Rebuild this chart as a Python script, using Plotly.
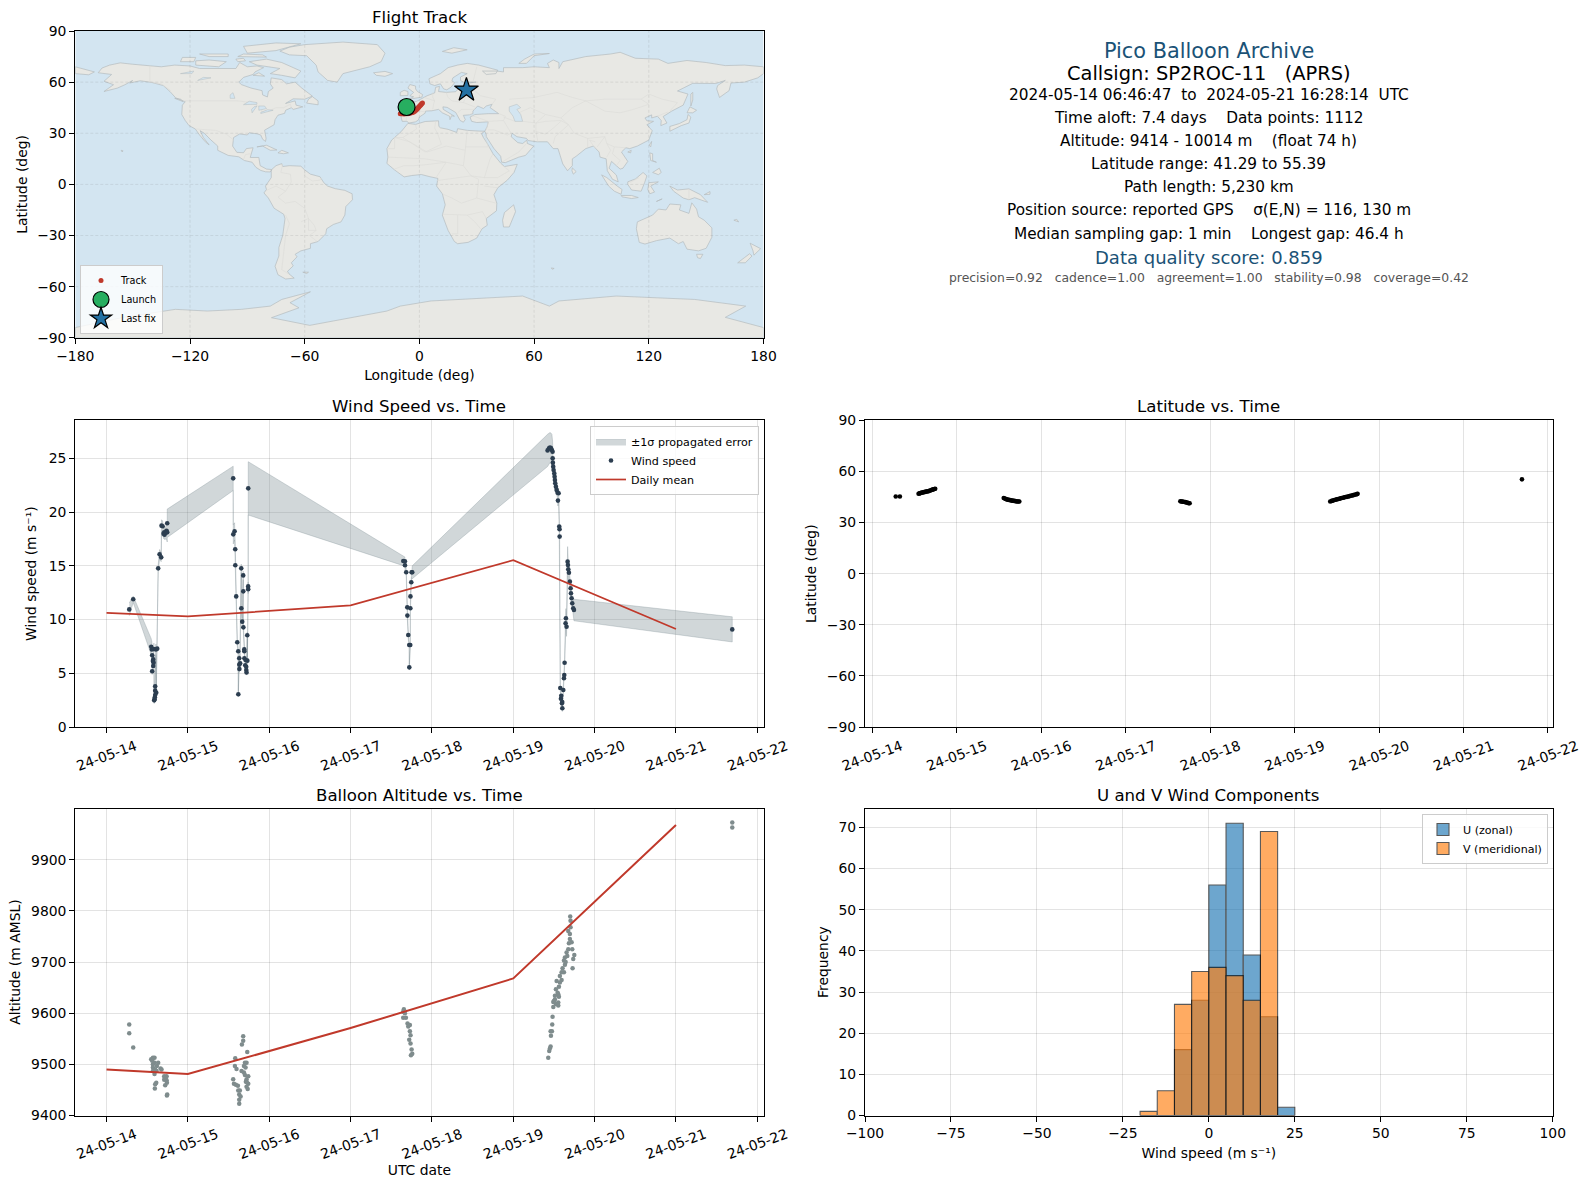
import numpy as np
import pandas as pd
import plotly.graph_objects as go

W, H = 1589, 1189
FONT = "DejaVu Sans"
T0 = pd.Timestamp("2024-05-14")

# ---------- wind speed ----------
wind_days = [
    .279, .328, .549, .557, .561, .561, .570, .574, .574, .578, .582, .586, .590, .594, .598, .598, .598, .607, .611, .623,
    .635, .652, .672, .676, .689, .701, .709, .713, .730, .738, .746, .746,
    1.557, 1.558, 1.574, 1.582, 1.583, 1.594, 1.607, 1.619, 1.620, 1.631, 1.632, 1.633, 1.643, 1.656, 1.657, 1.668, 1.680,
    1.681, 1.682, 1.693, 1.694, 1.695, 1.705, 1.709, 1.717, 1.718, 1.721, 1.730, 1.731, 1.741, 1.7415, 1.742,
    3.648, 3.668, 3.669, 3.684, 3.697, 3.698, 3.709, 3.721, 3.722, 3.734, 3.735, 3.736, 3.746, 3.750, 3.758,
    5.422, 5.439, 5.451, 5.463, 5.475, 5.483, 5.484, 5.487, 5.491, 5.496, 5.504, 5.508, 5.512, 5.516, 5.524, 5.533, 5.545,
    5.549, 5.557, 5.565, 5.569, 5.570, 5.578, 5.586, 5.590, 5.598, 5.602, 5.603, 5.615, 5.623, 5.627, 5.631, 5.643, 5.647,
    5.655, 5.668, 5.672, 5.676, 5.684, 5.696, 5.705, 5.709, 5.717, 5.725, 5.737, 5.746, 7.692,
]
wind_speed = [
    10.95, 11.89, 7.48, 7.23, 6.68, 5.19, 6.15, 6.30, 5.68, 5.99, 7.26, 2.49, 2.58, 2.77, 3.79, 3.39, 2.99, 7.23, 3.20, 7.30,
    14.77, 16.07, 15.79, 18.74, 18.68, 17.99, 18.12, 17.90, 18.09, 18.27, 18.12, 18.96,
    23.14, 17.93, 18.21, 16.54, 15.05, 12.16, 7.89, 7.05, 3.05, 6.40, 5.81, 5.40, 5.93, 14.77, 11.05, 9.81, 14.11,
    12.63, 9.28, 7.23, 7.05, 6.40, 5.75, 6.24, 5.62, 5.31, 5.09, 8.54, 6.18, 13.09, 12.82, 22.21,
    15.45, 15.42, 15.05, 14.40, 11.14, 10.37, 8.57, 7.64, 5.56, 7.64, 11.05, 12.16, 13.47, 14.40, 14.40,
    25.74, 25.93, 26.00, 25.96, 25.78, 25.62, 25.00, 24.60, 24.23, 23.92, 23.60, 23.30, 22.99, 22.68, 22.37, 22.06, 21.81,
    21.07, 21.75, 18.65, 18.40, 17.72, 3.64, 2.64, 2.92, 2.21, 2.33, 1.75, 3.45, 4.54, 4.85, 5.99, 9.65, 10.12,
    9.34, 15.39, 15.08, 14.68, 14.37, 13.53, 12.91, 12.44, 11.98, 11.51, 11.05, 10.89, 9.09,
]
wind_sigma = [
    .60, .30, .75, .70, .50, .30, .30, .40, .30, .30, .55, .30, .25, .25, .30, .30, .25, .50, .30, .55,
    .30, .45, .40, .55, .50, .45, .50, .45, .60, .80, .90, 1.32,
    1.13, .90, .80, .60, .50, .40, .30, .30, .25, .30, .30, .30, .30, .40, .30, .30, .40,
    .40, .30, .25, .25, .25, .25, .25, .25, .25, .25, .30, .30, .40, .40, 2.48,
    .43, .40, .40, .35, .30, .30, .30, .25, .25, .25, .30, .30, .40, .50, .60,
    1.50, 1.45, 1.40, 1.40, 1.45, 1.00, .70, .55, .50, .50, .60, .65, .60, .60, .55, .55, .50,
    .50, .50, .60, .50, .40, .30, .30, .30, .25, .30, .30, .30, .30, .30, .30, .80, .90,
    .90, 1.40, 1.00, .70, .50, .40, .30, .30, .35, .50, .70, 1.00, 1.17,
]
mean_days = [0, 1, 3, 5, 7]
wind_mean = [10.62, 10.30, 11.32, 15.52, 9.13]

# ---------- altitude ----------
alt_days = [
    .279, .279, .328,
    .549, .570, .590, .561, .570, .590, .619, .570, .598, .635, .676, .664, .590, .615, .570, .717, .738, .709, .730, .738,
    .611, .709, .742, .598, .721, .594, .742, .746,
    1.680, 1.680, 1.664, 1.730, 1.582, 1.701, 1.721, 1.689, 1.578, 1.598, 1.660, 1.689, 1.709, 1.701, 1.742, 1.721, 1.742, 1.713,
    1.557, 1.566, 1.590, 1.615, 1.721, 1.619, 1.639, 1.631, 1.648, 1.631, 1.631, 1.725, 1.735,
    3.655, 3.647, 3.668, 3.647, 3.680, 3.700, 3.729, 3.709, 3.729, 3.737, 3.721, 3.737, 3.750, 3.758, 3.742,
    5.430, 5.442, 5.459, 5.450, 5.463, 5.475, 5.459, 5.479, 5.483, 5.492, 5.533, 5.500, 5.553, 5.512, 5.553, 5.524, 5.561,
    5.533, 5.594, 5.623, 5.573, 5.606, 5.594, 5.623, 5.635, 5.655, 5.676, 5.684, 5.717, 5.696, 5.704, 5.704, 5.700,
    5.729, 5.737, 5.750, 5.725, 5.676, 5.512, 5.545, 5.524, 5.553, 5.492, 5.561, 5.573, 5.635, 5.664, 5.644, 5.696,
    7.692, 7.692,
]
alt_m = [
    9578, 9561, 9533,
    9510, 9513, 9513, 9507, 9500, 9503, 9497, 9494, 9490, 9503, 9490, 9492, 9481, 9487, 9487, 9474, 9477, 9477, 9474, 9469,
    9464, 9470, 9464, 9461, 9459, 9453, 9439, 9441,
    9555, 9546, 9539, 9524, 9512, 9503, 9503, 9497, 9497, 9491, 9487, 9484, 9494, 9479, 9477, 9471, 9462, 9466,
    9471, 9462, 9460, 9458, 9456, 9449, 9449, 9441, 9437, 9431, 9423, 9465, 9452,
    9608, 9603, 9600, 9591, 9591, 9580, 9577, 9574, 9565, 9557, 9548, 9541, 9529, 9521, 9518,
    9513, 9526, 9535, 9531, 9556, 9565, 9565, 9578, 9593, 9612, 9618, 9624, 9621, 9634, 9637, 9647, 9652,
    9663, 9665, 9680, 9673, 9688, 9680, 9703, 9709, 9719, 9725, 9737, 9739, 9755, 9768, 9781, 9789,
    9688, 9706, 9714, 9725, 9761, 9627, 9640, 9618, 9615, 9622, 9632, 9660, 9695, 9712, 9700, 9745,
    9973, 9963,
]
alt_mean = [9490, 9481, 9571, 9668, 9968]

# ---------- latitude ----------
lat_days = [
    .279, .328,
    .549, .560, .570, .582, .592, .604, .615, .627, .640, .652, .664, .676, .689, .701, .713, .725, .737, .746,
    1.557, 1.570, 1.582, 1.594, 1.607, 1.619, 1.631, 1.643, 1.656, 1.668, 1.680, 1.693, 1.705, 1.717, 1.730, 1.742,
    3.648, 3.660, 3.672, 3.684, 3.697, 3.709, 3.721, 3.734, 3.746, 3.758,
    5.422, 5.440, 5.455, 5.470, 5.485, 5.500, 5.515, 5.530, 5.545, 5.560, 5.575, 5.590, 5.605, 5.620, 5.635, 5.650,
    5.665, 5.680, 5.695, 5.710, 5.725, 5.740, 5.746,
    7.692,
]
lat_deg = [
    45.3, 45.3,
    46.9, 47.1, 47.3, 47.5, 47.6, 47.7, 47.9, 48.0, 48.2, 48.3, 48.4, 48.6, 48.8, 49.1, 49.3, 49.5, 49.7, 49.8,
    44.4, 44.1, 43.8, 43.6, 43.4, 43.3, 43.2, 43.0, 42.9, 42.8, 42.7, 42.6, 42.5, 42.4, 42.4, 42.4,
    42.5, 42.4, 42.3, 42.2, 42.1, 42.0, 41.8, 41.6, 41.4, 41.3,
    42.4, 42.7, 42.9, 43.2, 43.4, 43.6, 43.8, 44.0, 44.2, 44.4, 44.6, 44.8, 45.0, 45.1, 45.3, 45.5,
    45.7, 45.9, 46.1, 46.3, 46.5, 46.7, 46.9,
    55.35,
]

# ---------- histogram ----------
bin_centers = [-17.5, -12.5, -7.5, -2.5, 2.5, 7.5, 12.5, 17.5, 22.5]
u_counts = [0, 0, 16, 28, 56, 71, 39, 24, 2]
v_counts = [1, 6, 27, 35, 36, 34, 28, 69, 0]

# ---------- map ----------
track_lon = [-10.0, -9.5, -8.8, -8.0, -7.0, -6.0, -5.0, -4.0, -3.2, -2.6, -2.0, -1.6, -1.2, -0.8, -0.4, 0.0, 0.4, 0.8, 1.2, 1.6, 24.6]
track_lat = [41.5, 41.4, 41.4, 41.3, 41.4, 41.5, 41.7, 42.0, 42.4, 42.8, 43.3, 43.8, 44.3, 44.8, 45.3, 45.8, 46.3, 46.8, 47.3, 47.8, 55.39]
launch_lon, launch_lat = [-6.7], [45.4]
last_lon, last_lat = [24.6], [55.39]
lon_ticks = [-180, -120, -60, 0, 60, 120, 180]
lat_ticks = [-90, -60, -30, 0, 30, 60, 90]

land_polygons = [
    # North America
    [(-168,65.5),(-166,68.3),(-162,70),(-156.5,71.3),(-150,70.5),(-141,69.7),(-135,69),(-128,70),(-120,69.5),(-115,68),(-108,68),(-102,68),(-96,68),(-94,71.5),(-90,69),(-85,69.5),(-81.5,68.5),(-86,66),(-87,64.5),(-92,62.8),(-94.5,60),(-93,58.5),(-88,56.5),(-82.3,55),(-82,52.5),(-79.5,51.3),(-79,54.5),(-76.5,56.5),(-78,59),(-77.5,62.5),(-72,61.5),(-69.5,59),(-65,60),(-61.5,56.5),(-57,53),(-56,51.8),(-60,50),(-66,50.2),(-70,47.5),(-65,49),(-64.5,46.5),(-61,45.5),(-66,44),(-67,45),(-70,43.5),(-70.5,41.7),(-74,40.6),(-75.5,38),(-76,35),(-78,33.8),(-81,31.8),(-80.2,27),(-80.5,25.2),(-82,26.5),(-83,29),(-85,29.7),(-89,30.3),(-90,29),(-94,29.6),(-97.2,27.5),(-97.7,22.5),(-95.5,18.8),(-92,18.6),(-90.5,21),(-87,21.5),(-88.2,17),(-88.5,15.8),(-84,15.8),(-83.3,11),(-80,9),(-77.3,8.7),(-78,7.3),(-80.5,7.4),(-83,8.2),(-85.5,10),(-87.5,13),(-91.5,14),(-94.5,16.2),(-100,17),(-105.5,20),(-105.5,22.5),(-109,26),(-112.5,30),(-114.7,31.5),(-113,27.5),(-110,23.2),(-112,25),(-115,29),(-117.2,32.5),(-120.5,34.5),(-122.5,37.5),(-124.3,41),(-124,46.5),(-122.5,48.5),(-127.5,50.8),(-130.5,54.5),(-134,58),(-140,59.8),(-146,60.8),(-151.5,59.5),(-150,61),(-154,58.5),(-158,56.5),(-165,54.5),(-160,58.5),(-165,60.5),(-161,64.5),(-168,65.5)],
    # South America
    [(-77.3,8.7),(-75,11),(-72,12.2),(-71.5,10.5),(-68,11),(-62,10.7),(-60,8.5),(-57,6),(-52,4.5),(-50,1),(-48,-1),(-44,-2.5),(-39,-3.5),(-35.2,-5.5),(-35,-9),(-38.5,-13),(-39,-18),(-41,-22),(-45,-23.5),(-48.5,-26),(-49,-29),(-53,-33.5),(-57,-34.8),(-57,-37.5),(-62,-39),(-65,-41),(-64,-42.5),(-67,-46),(-66,-47.8),(-69,-51),(-68.2,-52.5),(-65.5,-55),(-70,-55.5),(-74,-53),(-75.5,-48),(-73.5,-42),(-73.5,-37),(-71.5,-30),(-70.3,-20),(-71,-17.5),(-76,-14),(-79,-8),(-81.3,-5),(-80,-3),(-80.5,-1),(-78.8,1.5),(-77.5,4),(-77.5,7.5),(-77.3,8.7)],
    # Africa
    [(-6,35.8),(-2,35.2),(3,36.9),(10,37.3),(10.2,34),(11,33.2),(15,32.3),(19.5,30.5),(20,32.7),(25,31.7),(31,31.3),(34.2,31.2),(32.5,29.8),(33.5,27.5),(35.5,24),(37.2,20.8),(38.5,18),(42.5,12.5),(43.3,11.5),(44.5,10.5),(51.2,11.8),(49.5,7),(46,2.5),(41,-2),(39,-6),(40.5,-11),(40.3,-15.5),(35,-20),(35.5,-24),(32.8,-26),(30,-31.5),(25.5,-34),(20,-34.8),(18.3,-33.5),(15,-27),(12,-18),(13.5,-12),(12,-5.5),(9,-1),(9.7,3.5),(5.5,4.5),(1,5.8),(-4,5.2),(-8,4.4),(-13,8.5),(-17,12.3),(-16.5,16),(-17,21),(-14.5,26),(-9.5,31),(-6,35.8)],
    # Eurasia
    [(-9,37),(-9.5,39),(-9,43.2),(-2,43.4),(-1.2,46),(-4.7,48.3),(-1.5,48.7),(1.5,50.5),(4,52),(8,53.7),(8.5,57),(10.5,57.5),(10,54.5),(14,54),(19,54.4),(21,57),(24,57.5),(24,59.2),(29.5,60),(23,60),(21.5,61),(21.5,63),(25,65),(22,65.7),(17.5,62.5),(17,60.7),(18.5,59.7),(16.5,57),(14.3,55.5),(12.7,56),(11,59),(8,58),(5.5,59),(5,62),(11,65),(15,68.5),(20,70),(25,71),(31,70),(41,67),(40,65),(35,64.5),(33,66.5),(40.5,66.5),(44,66),(44,68.5),(54,68.5),(60,69),(68,68.5),(67,71),(70,73),(73,71.5),(73,68),(75,72),(81,73.5),(87,75),(100,76.5),(105,77.5),(113,74),(125,73.5),(130,71),(140,72.7),(150,71.5),(160,69.7),(170,70),(180,69),(180,65),(177,62.5),(170,60),(163,59.5),(162,55),(157,51),(155.5,56),(156,58),(160,61),(155,59.2),(143,59.3),(135,54.8),(140.5,53),(138,46.5),(132,43),(127.5,39.8),(129.5,36),(126.3,34.5),(126.5,37.5),(124.5,40),(121.5,39),(121.5,40.8),(118,39),(119,37.3),(122.5,37),(119,35),(121.8,31.5),(120,26),(114,22.5),(110,21),(108,21.5),(105.7,19),(109,13.5),(106.5,9.5),(105,9),(100.5,13.5),(99.2,9.5),(103,5.5),(104,1.5),(101,3),(98.3,8),(97.7,15),(94.5,16),(94,19),(91,22.5),(87,21),(82,16.5),(80,15),(80,11),(77.5,8),(75,12),(72.8,19),(72.5,21),(70,21),(67,25),(61.5,25),(57,25.7),(56,27),(51,28),(48.5,30),(48,28),(50,26),(51.5,24.5),(54,24),(56.2,26),(56.5,24),(59.8,22.5),(55.5,17),(52,16),(45,12.8),(43,13),(42.5,16.5),(39,21),(35,28),(34.9,29.5),(34.2,31.2),(35.5,34),(36,36.7),(32,36.2),(30,36.3),(27.3,37),(26.5,39.5),(29,41),(31.5,41.2),(36,41.5),(41.5,41.5),(37,45),(38,47),(35,46),(33.5,44.5),(30.5,46),(28,43),(28,41.5),(26,40.8),(23,40.5),(24,38),(23,36.5),(21.3,37.5),(19.5,41),(19,42.2),(14.5,45.2),(12.3,45.5),(12.5,44),(16,41.8),(18.3,40),(16.8,40.3),(16,38),(15.8,40),(12,42),(10,44),(6.5,43.2),(3.2,43),(3,41.8),(0,39.5),(-0.5,37.8),(-2,36.7),(-5.5,36),(-6.5,37),(-9,37)],
    [(-180,69),(-175,67.5),(-170,66),(-173,64.3),(-180,65),(-180,69)],
    # Greenland, Iceland, British Isles, Arctic
    [(-73,78.2),(-68,80.5),(-60,82),(-40,83.5),(-22,82),(-18,77),(-20,72),(-26,69),(-40,65),(-43,60),(-48,61),(-53,66),(-54,70),(-59,75.5),(-68,76),(-73,78.2)],
    [(-24,65.5),(-18,66.3),(-14,65),(-18,63.4),(-22.5,64),(-24,65.5)],
    [(-5.5,50),(1.3,51.2),(1.7,52.7),(-1,54.5),(-2,56),(-2,57.7),(-5,58.6),(-6,56.5),(-3,54),(-5,52),(-3,51.4),(-5.5,50)],
    [(-10,52),(-6,52.2),(-6,54.5),(-8,55.2),(-10,54),(-10,52)],
    [(52,71),(56,71),(60,75.5),(68,76.8),(60,76.5),(55,73.5),(52,71)],
    [(12,78),(17,77),(25,79),(18,80.2),(12,78)],
    # Canadian archipelago
    [(-80,73.5),(-72,71.5),(-62,66.5),(-65,62.5),(-72,64),(-78,65),(-73,68),(-85,70),(-89,72),(-80,73.5)],
    [(-117,70),(-105,69),(-101,72),(-110,73),(-117,72.5),(-117,70)],
    [(-90,77),(-75,78.5),(-62,82.5),(-75,83),(-92,81),(-90,77)],
    [(-125,72),(-118,72),(-117,74.5),(-124,74.5),(-125,72)],
    [(-95,75),(-80,74.7),(-82,76),(-92,76.5),(-95,75)],
    [(-95,72),(-91,72.5),(-92,74),(-96,73.5),(-95,72)],
    [(-110,75),(-100,75),(-100,76.5),(-115,76.5),(-110,75)],
    [(-59,47.7),(-53,46.7),(-53,49),(-56,51.5),(-58,50),(-59,47.7)],
    [(-87,64),(-81,63.5),(-84,65.5),(-87,64)],
    [(-128,50.5),(-123.5,48.5),(-125,50),(-128,50.5)],
    # Caribbean, Pacific
    [(-85,22),(-80,23),(-74.5,20.2),(-78,20),(-82,22.5),(-85,22)],
    [(-74,18.5),(-72,20),(-68.5,18.5),(-71,18),(-74,18.5)],
    [(-156,20),(-155,19.7),(-155.5,19),(-156,20)],
    # Asia islands
    [(131,34),(136,35.7),(140,38),(140.5,41),(142,39.5),(141,36),(137,34.5),(135,33.5),(131,31.2),(131,34)],
    [(140,42),(141.5,45.5),(145,43.5),(143,42),(140,42)],
    [(142,46),(143,49.5),(143,54),(142,53),(142,46)],
    [(120.2,23),(121.5,25.2),(121,22),(120.2,23)],
    [(109,19),(110.8,20),(110.5,18.5),(109,19)],
    [(80,9.7),(82,7.5),(80.5,6),(79.8,8),(80,9.7)],
    [(120.5,18.5),(122,18),(122,14),(124,13),(121,14),(120.5,18.5)],
    [(122,7),(125.5,9.5),(126.5,7),(125,5.7),(122,7)],
    [(109,1.5),(113,3.2),(117,7),(119,5),(117.8,1),(116,-4),(111,-3.3),(109,0),(109,1.5)],
    [(95.3,5.6),(98,4),(103.5,-1),(106,-3),(105.5,-5.8),(102,-4),(99,-1),(95.3,5.6)],
    [(105.5,-6.5),(111,-6.5),(114.5,-7.7),(111,-8.3),(106,-7.3),(105.5,-6.5)],
    [(119.5,-3),(120,1),(125,1.5),(121,-1),(123,-4.5),(120.5,-5.5),(119.5,-3)],
    [(124,-10),(127,-8.5),(125,-9.5),(124,-10)],
    [(131,-1),(135,-3.3),(141,-2.6),(147,-6),(150.8,-10.5),(144,-7.8),(141,-9),(138,-8),(133,-4),(131,-1)],
    [(149,-6),(152,-4.2),(152,-5.8),(149,-6)],
    # Oceania
    [(114,-22),(113.5,-26),(115,-34),(118,-35),(124,-33),(131,-31.5),(135.5,-34.8),(138,-33.5),(140,-38),(146,-39),(150,-37.5),(153,-31),(153,-25.5),(149,-21),(146,-19),(145,-14.5),(142.5,-10.8),(141,-17),(136,-15),(136.8,-12),(131,-11.5),(129,-15),(125,-14.5),(122,-18),(114,-22)],
    [(145,-41),(148.3,-41),(147,-43.5),(145.5,-43),(145,-41)],
    [(173,-34.5),(178.5,-37.7),(175,-41.5),(174.5,-39),(173,-34.5)],
    [(172.7,-40.7),(174,-42),(170.5,-46),(166.5,-46),(170,-43),(172.7,-40.7)],
    [(166,-20.5),(167,-22),(164.5,-21),(166,-20.5)],
    [(49.3,-12),(50.3,-16),(47,-25),(44,-25),(43.5,-21),(44.5,-16.5),(49.3,-12)],
    [(-61,-51.5),(-58,-51.5),(-59,-52.3),(-61,-51.5)],
    [(69,-49),(70.5,-49.3),(69.5,-49.8),(69,-49)],
    # Antarctica
    [(-180,-90),(-180,-84),(-155,-78),(-127.6,-73.3),(-111,-74.3),(-93,-73.3),(-78,-71.4),(-72,-67.5),(-57,-63),(-67.7,-69.4),(-63,-72.4),(-77.4,-78.2),(-57.4,-82.7),(-35,-78),(-17,-74.3),(-10,-71.4),(6,-68.4),(54,-65.5),(68,-71.4),(73,-68.4),(103,-65.5),(144,-67.5),(170.7,-71.4),(160,-78),(178,-83),(180,-84),(180,-90),(-180,-90)],
]
lake_polygons = [
    [(47,45.5),(51,47),(53,45),(51,44),(53,41),(54,37),(50,37),(49,40),(47,43),(47,45.5)],
    [(-92,46.8),(-85,47),(-85,48),(-89,48.8),(-92,46.8)],
    [(-87.5,42),(-85,46),(-86.5,45.5),(-87.8,44),(-87.5,42)],
    [(-84,43.5),(-80,44.5),(-81,46),(-84,46),(-84,43.5)],
    [(-83,41.6),(-79,42.8),(-79,43.2),(-76.5,43.5),(-79.5,43.8),(-83,42.2),(-83,41.6)],
    [(-125,65),(-118,66.5),(-119,65),(-125,65)],
    [(-116,61),(-109,62.5),(-113,62.8),(-116,61)],
    [(-99,50.5),(-96.5,50.5),(-97.5,53.8),(-99,52.5),(-99,50.5)],
]
border_lines = [
    [(-141,69.7),(-141,60),(-135,59),(-130,55)],
    [(-123,49),(-95,49),(-88,48),(-82.5,45),(-82.5,42.5),(-79,43),(-75,45),(-71,45),(-67.5,47),(-67,45)],
    [(-117,32.5),(-106.5,31.7),(-101,29.5),(-97.2,26)],
    [(-92,14.5),(-91,17.5),(-88.5,18)],
    [(-71.5,12),(-72.5,7),(-67.5,6),(-67,1.5),(-70,-4),(-74,-7.5),(-70,-11),(-65,-10),(-60,-14),(-58,-20),(-55,-24),(-54,-27),(-57.5,-30),(-53.5,-33.5)],
    [(-60,8),(-60,5),(-56,2),(-52,2.5),(-51,4)],
    [(-70,-18),(-68,-23),(-70,-30),(-71,-40),(-72,-50),(-68.5,-52.5)],
    [(-80,-3.5),(-75,-1),(-70,-4)],
    [(-62,-22),(-58,-20),(-58,-27),(-54,-27)],
    [(-17,21),(-13,21),(-13,27.5),(-8.7,27.5),(-1.5,32.5),(-2,35)],
    [(-8.7,27.5),(3,19),(11.5,23.5),(9.5,30),(8,33),(8.5,37)],
    [(-13,27.5),(-5,25),(4,19),(14,22.5),(24,20),(25,31.7)],
    [(24,22),(37,22)],
    [(-16.5,16),(-5,15.5),(3,15),(14,13),(23,11),(24,20)],
    [(-13,9),(-8,11),(-3,11),(3,11.5),(14,13)],
    [(14,13),(9,4.5)],
    [(23,11),(27,5),(34,4),(41,4),(47,8),(43,11.5)],
    [(34,4),(37,15),(38.5,18)],
    [(9,2.2),(18,3.5),(27,5),(31,3),(30,-8),(40,-11)],
    [(12,-5.5),(17,-8),(22,-11),(30,-8)],
    [(12,-17.5),(25,-18),(33,-16),(35,-20)],
    [(20,-18),(20,-29),(17,-29)],
    [(25,-18),(29,-22),(32,-26)],
    [(34,-1),(41,-2)],
    [(-2,43.4),(3,42.5)],
    [(-9,42),(-6.5,42),(-7,37)],
    [(2.5,51),(8,49),(7.5,47.5),(7,44)],
    [(7,54),(7,51),(8,49)],
    [(14,54),(15,51),(17,49),(23,48),(29,45.5)],
    [(23,54),(24,50.5),(23,48)],
    [(28,56),(32,52),(40,50),(38,47)],
    [(28,60),(30,69)],
    [(20,42),(22,44),(29,44)],
    [(26,41),(36,37),(44,37.5),(45,40),(41.5,41.5)],
    [(36,32),(39,32),(46,29),(48,30)],
    [(44,37.5),(46,34),(48,30)],
    [(44,39.5),(48,38),(50,37)],
    [(54,37),(61,36),(61,31),(62,25)],
    [(61,36),(66,37),(74,37.5),(78,35),(75,32),(71,28),(70,24)],
    [(61,31),(66,29.5),(70,33),(74,37)],
    [(47,50),(60,51),(72,54),(80,51),(87,49)],
    [(87,49),(97,50),(107,50),(116,50),(120,53),(127,50),(135,48),(131,43)],
    [(87,49),(80,45),(74,39),(78,35),(81,30),(88,27),(97,28),(98,24),(102,22),(108,21.5)],
    [(88,27),(88,22)],
    [(92,25),(89,26),(92,21)],
    [(97,28),(93,22)],
    [(98,24),(100,20),(98,16)],
    [(102,22),(101,18),(105,14),(103,11)],
    [(87,49),(97,43),(105,42),(112,44),(120,47),(116,50)],
    [(124.5,40),(130,42.5)],
    [(52,42),(58,45),(66,41),(61,36)],
    [(66,41),(74,39)],
    [(141,-2.6),(141,-9)],
    [(110,1),(115,4)],
    [(35,32),(36,36.7)],
    [(43,13),(52,19),(56,24)],
    [(36,22),(34,29.5)],
]


def flatten(polys):
    xs, ys = [], []
    for p in polys:
        xs += [c[0] for c in p] + [None]
        ys += [c[1] for c in p] + [None]
    return xs, ys


def to_time(days):
    return [T0 + pd.Timedelta(days=float(d)) for d in days]


# pixel frames of the panels
X1, X2 = (75.3, 763.5), (865.0, 1552.7)
Y1, Y2, Y3 = (31.0, 337.8), (420.3, 727.1), (808.7, 1115.5)


def dx(px):
    return [px[0] / W, px[1] / W]


def dy(py):
    return [1 - py[1] / H, 1 - py[0] / H]


fig = go.Figure()

SPINE = dict(showline=True, linecolor="black", linewidth=1.1, mirror=True, ticks="outside", ticklen=5, tickwidth=1.1,
             tickcolor="black", zeroline=False, automargin=False, tickfont=dict(family=FONT, size=13.9, color="black"))
GRID = dict(showgrid=True, gridcolor="rgba(0,0,0,0.11)", gridwidth=1)
DATEAX = dict(type="date", tickformat="%y-%m-%d", dtick=86400000, tick0="2024-05-14", tickangle=-20, ticklabelshift=29)


def title(text):
    return dict(text=text, font=dict(family=FONT, size=13.9, color="black"))


# ---- map ----
SEA = "#d3e5f1"
LAND = "#e8e8e4"
fig.add_trace(go.Scatter(x=[-180, 180, 180, -180, -180], y=[-90, -90, 90, 90, -90], mode="lines", fill="toself",
                         fillcolor=SEA, line=dict(width=0), hoverinfo="skip", showlegend=False, xaxis="x", yaxis="y"))
lx, ly = flatten(land_polygons)
fig.add_trace(go.Scatter(x=lx, y=ly, mode="lines", fill="toself", fillcolor=LAND, line=dict(color="#b4bcbe", width=0.7),
                         hoverinfo="skip", showlegend=False, xaxis="x", yaxis="y"))
bx, by = flatten(border_lines)
fig.add_trace(go.Scatter(x=bx, y=by, mode="lines", line=dict(color="#dcdcd8", width=0.6), hoverinfo="skip",
                         showlegend=False, xaxis="x", yaxis="y"))
kx, ky = flatten(lake_polygons)
fig.add_trace(go.Scatter(x=kx, y=ky, mode="lines", fill="toself", fillcolor=SEA, line=dict(color="#b4bcbe", width=0.5),
                         hoverinfo="skip", showlegend=False, xaxis="x", yaxis="y"))
gx = []
gy = []
for v in lon_ticks[1:-1]:
    gx += [v, v, None]
    gy += [-90, 90, None]
for v in lat_ticks[1:-1]:
    gx += [-180, 180, None]
    gy += [v, v, None]
fig.add_trace(go.Scatter(x=gx, y=gy, mode="lines", line=dict(color="rgba(120,120,120,0.2)", width=0.8, dash="3px,2px"),
                         hoverinfo="skip", showlegend=False, xaxis="x", yaxis="y"))
fig.add_trace(go.Scatter(x=track_lon, y=track_lat, mode="markers", name="Track", marker=dict(color="#c0392b", size=5),
                         legend="legend", xaxis="x", yaxis="y"))
fig.add_trace(go.Scatter(x=launch_lon, y=launch_lat, mode="markers", name="Launch",
                         marker=dict(color="#27ae60", size=17, line=dict(color="black", width=1.2)),
                         legend="legend", xaxis="x", yaxis="y"))
fig.add_trace(go.Scatter(x=last_lon, y=last_lat, mode="markers", name="Last fix",
                         marker=dict(color="#2471a3", size=18, symbol="star", line=dict(color="black", width=1.2)),
                         legend="legend", xaxis="x", yaxis="y"))

# ---- wind ----
order = np.argsort(wind_days, kind="stable")
wd = np.array(wind_days)[order]
ws = np.array(wind_speed)[order]
sg = np.array(wind_sigma)[order]
upper = ws + sg
lower = ws - sg
band_t = to_time(wd)
fig.add_trace(go.Scatter(x=band_t + band_t[::-1], y=list(upper) + list(lower[::-1]), mode="lines", fill="toself",
                         fillcolor="rgba(122,140,146,0.35)", line=dict(color="rgba(122,140,146,0.3)", width=1),
                         name="±1σ propagated error", legend="legend2", hoverinfo="skip", xaxis="x2", yaxis="y2"))
fig.add_trace(go.Scatter(x=band_t, y=ws, mode="markers", name="Wind speed", marker=dict(color="#2c3e50", size=4.6),
                         legend="legend2", xaxis="x2", yaxis="y2"))
fig.add_trace(go.Scatter(x=to_time(mean_days), y=wind_mean, mode="lines", name="Daily mean",
                         line=dict(color="#c0392b", width=1.7), legend="legend2", xaxis="x2", yaxis="y2"))

# ---- latitude ----
fig.add_trace(go.Scatter(x=to_time(lat_days), y=lat_deg, mode="markers", marker=dict(color="black", size=4.6),
                         showlegend=False, xaxis="x3", yaxis="y3"))

# ---- altitude ----
fig.add_trace(go.Scatter(x=to_time(alt_days), y=alt_m, mode="markers", marker=dict(color="#7f8c8d", size=4.5),
                         showlegend=False, xaxis="x4", yaxis="y4"))
fig.add_trace(go.Scatter(x=to_time(mean_days), y=alt_mean, mode="lines", line=dict(color="#c0392b", width=2),
                         showlegend=False, xaxis="x4", yaxis="y4"))

# ---- histogram ----
fig.add_trace(go.Bar(x=bin_centers, y=u_counts, width=5, name="U (zonal)", opacity=0.65,
                     marker=dict(color="#1f77b4", line=dict(color="black", width=1.1)),
                     legend="legend3", xaxis="x5", yaxis="y5"))
fig.add_trace(go.Bar(x=bin_centers, y=v_counts, width=5, name="V (meridional)", opacity=0.65,
                     marker=dict(color="#ff7f0e", line=dict(color="black", width=1.1)),
                     legend="legend3", xaxis="x5", yaxis="y5"))

r1 = [T0 + pd.Timedelta(days=-0.384), T0 + pd.Timedelta(days=8.076)]
r2 = [T0 + pd.Timedelta(days=-0.085), T0 + pd.Timedelta(days=8.056)]


def legend(x, y, size=11.1, xanchor="right", yanchor="top"):
    return dict(x=x / W, y=1 - y / H, xanchor=xanchor, yanchor=yanchor, bgcolor="rgba(255,255,255,0.8)",
                bordercolor="#cccccc", borderwidth=1, font=dict(family=FONT, size=size, color="black"),
                tracegroupgap=0, itemsizing="trace")


fig.update_layout(
    width=W, height=H, margin=dict(l=0, r=0, t=0, b=0), paper_bgcolor="white", plot_bgcolor="white",
    barmode="overlay", font=dict(family=FONT, size=13.9, color="black"), hovermode=False,
    xaxis=dict(domain=dx(X1), range=[-180, 180], anchor="y", tickvals=lon_ticks, showgrid=False,
               title=dict(title("Longitude (deg)"), standoff=7), **SPINE),
    yaxis=dict(domain=dy(Y1), range=[-90, 90], anchor="x", tickvals=lat_ticks, showgrid=False,
               title=dict(title("Latitude (deg)"), standoff=6), **SPINE),
    xaxis2=dict(domain=dx(X1), range=r1, anchor="y2", **DATEAX, **GRID, **SPINE),
    yaxis2=dict(domain=dy(Y2), range=[0, 28.54], anchor="x2", tickvals=[0, 5, 10, 15, 20, 25],
                title=dict(title("Wind speed (m s⁻¹)"), standoff=8), **GRID, **SPINE),
    xaxis3=dict(domain=dx(X2), range=r2, anchor="y3", **DATEAX, **GRID, **SPINE),
    yaxis3=dict(domain=dy(Y2), range=[-90, 90], anchor="x3", tickvals=lat_ticks,
                title=dict(title("Latitude (deg)"), standoff=6), **GRID, **SPINE),
    xaxis4=dict(domain=dx(X1), range=r1, anchor="y4", title=dict(title("UTC date"), standoff=4), **DATEAX, **GRID, **SPINE),
    yaxis4=dict(domain=dy(Y3), range=[9400, 10000], anchor="x4", tickvals=[9400, 9500, 9600, 9700, 9800, 9900],
                tickformat="d", title=dict(title("Altitude (m AMSL)"), standoff=7), **GRID, **SPINE),
    xaxis5=dict(domain=dx(X2), range=[-100, 100], anchor="y5", tickvals=[-100, -75, -50, -25, 0, 25, 50, 75, 100],
                title=dict(title("Wind speed (m s⁻¹)"), standoff=8), **GRID, **SPINE),
    yaxis5=dict(domain=dy(Y3), range=[0, 74.55], anchor="x5", tickvals=[0, 10, 20, 30, 40, 50, 60, 70],
                title=dict(title("Frequency"), standoff=6), **GRID, **SPINE),
    legend=legend(80, 334, size=9.7, xanchor="left", yanchor="bottom"),
    legend2=legend(759, 426),
    legend3=legend(1548, 814),
)


def note(px, py, text, size, color="black"):
    fig.add_annotation(x=px / W, y=1 - py / H, xref="paper", yref="paper", text=text, showarrow=False,
                       xanchor="center", yanchor="middle", font=dict(family=FONT, size=size, color=color))


panel_titles = [(419.4, 18, "Flight Track"), (419.4, 406, "Wind Speed vs. Time"), (1208.8, 406, "Latitude vs. Time"),
                (419.4, 795, "Balloon Altitude vs. Time"), (1208.8, 795, "U and V Wind Components")]
for tx, ty, t in panel_titles:
    note(tx, ty, t, 16.6)

info_lines = [
    (50.7, "Pico Balloon Archive", 20.8, "#1a5276"),
    (73.3, "Callsign: SP2ROC-11   (APRS)", 19.4, "black"),
    (95.0, "2024-05-14 06:46:47  to  2024-05-21 16:28:14  UTC", 15.3, "black"),
    (117.8, "Time aloft: 7.4 days    Data points: 1112", 15.3, "black"),
    (141.0, "Altitude: 9414 - 10014 m    (float 74 h)", 15.3, "black"),
    (163.8, "Latitude range: 41.29 to 55.39", 15.3, "black"),
    (187.0, "Path length: 5,230 km", 15.3, "black"),
    (210.3, "Position source: reported GPS    σ(E,N) = 116, 130 m", 15.3, "black"),
    (233.5, "Median sampling gap: 1 min    Longest gap: 46.4 h", 15.3, "black"),
    (257.0, "Data quality score: 0.859", 18.0, "#1a5276"),
    (278.0, "precision=0.92   cadence=1.00   agreement=1.00   stability=0.98   coverage=0.42", 12.4, "#555555"),
]
for ly_, t, s, c in info_lines:
    note(1208.8, ly_, t, s, c)

fig.write_html("out.html", config={"displayModeBar": False},
               post_script="document.body.style.margin='0';document.body.style.overflow='hidden';")
